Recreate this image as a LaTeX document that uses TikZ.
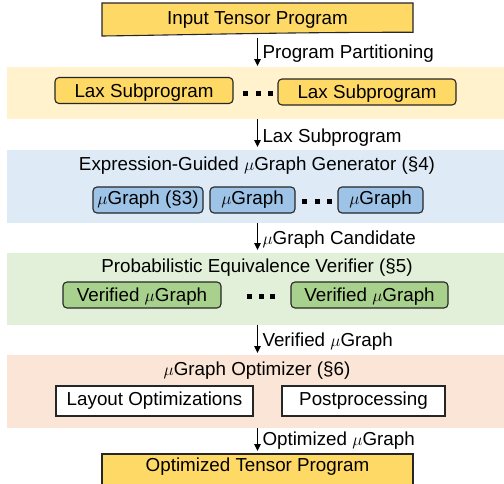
\documentclass[tikz,border=0pt]{standalone}
\usepackage{fontspec}
\setmainfont{Liberation Sans}
\usetikzlibrary{arrows.meta}
\definecolor{ygold}{HTML}{FFD966}
\definecolor{yband}{HTML}{FFF2CC}
\definecolor{bband}{HTML}{DEEBF7}
\definecolor{bbox}{HTML}{9DC3E6}
\definecolor{gband}{HTML}{E2F0D9}
\definecolor{gbox}{HTML}{A9D18E}
\definecolor{sband}{HTML}{FBE5D6}
\definecolor{edgec}{HTML}{262626}
\begin{document}
\begin{tikzpicture}[x=1pt,y=-1pt,
 every node/.style={font=\fontsize{18.8}{22}\selectfont, inner sep=0pt, outer sep=0pt, text=black},
 band/.style={rectangle, minimum width=497pt, anchor=north west},
 rbox/.style={rectangle, rounded corners=4pt, draw=edgec, line width=1.1pt, minimum height=26pt},
 sbox/.style={rectangle, draw=edgec, line width=1.1pt, minimum height=30pt, fill=white},
 lowtext/.style={text height=17.4pt, text depth=3.96pt},
 arr/.style={-{Triangle[length=7pt,width=6.5pt]}, line width=1.2pt, black},
 lbl/.style={anchor=west},
 sq/.style={rectangle, fill=black, minimum size=5pt}]
\useasboundingbox (0,0) rectangle (504,483);
\clip (0,0) rectangle (504,483);

% bands
\node[band, fill=yband, minimum height=52pt] (band1) at (7,67) {};
\node[band, fill=bband, minimum height=73pt] (band2) at (7,150) {};
\node[band, fill=gband, minimum height=72pt] (band3) at (7,253) {};
\node[band, fill=sband, minimum height=73pt] (band4) at (7,355) {};

% input document shape
\path[fill=ygold, draw=edgec, line width=1.1pt]
  (102,3) -- (413,3) -- (413,32.3) .. controls (300,32) and (180,35) .. (102,36) -- cycle;
\node[minimum width=311pt, minimum height=30pt] (inp) at (257.5,19.5) {Input Tensor Program};

% band 1
\node[rbox, lowtext, fill=ygold, minimum width=178pt] (lax1) at (144,90.5) {Lax Subprogram};
\node[rbox, lowtext, fill=ygold, minimum width=178pt] (lax2) at (367,92) {Lax Subprogram};
\node[sq] (d11) at (245.5,93.5) {};
\node[sq] (d12) at (258.5,93.5) {};
\node[sq] (d13) at (270.5,93.5) {};

% band 2
\node (t2) at (257,165.5) {Expression-Guided $\mu$Graph Generator (\S4)};
\node[rbox, fill=bbox, minimum width=110pt] (g1) at (148,200) {$\mu$Graph (\S3)};
\node[rbox, fill=bbox, minimum width=85pt] (g2) at (252.5,200) {$\mu$Graph};
\node[rbox, fill=bbox, minimum width=85pt] (g3) at (380.5,200) {$\mu$Graph};
\node[sq] (d21) at (304.5,201.5) {};
\node[sq] (d22) at (317,201.5) {};
\node[sq] (d23) at (329.5,201.5) {};

% band 3
\node (t3) at (257,268) {Probabilistic Equivalence Verifier (\S5)};
\node[rbox, lowtext, fill=gbox, minimum width=158pt] (v1) at (142,295) {Verified $\mu$Graph};
\node[rbox, lowtext, fill=gbox, minimum width=157pt] (v2) at (369.5,295) {Verified $\mu$Graph};
\node[sq] (d31) at (249.5,296) {};
\node[sq] (d32) at (261,296) {};
\node[sq] (d33) at (272.5,296) {};

% band 4
\node (t4) at (257,370.5) {$\mu$Graph Optimizer (\S6)};
\node[sbox, minimum width=197pt] (lo) at (154.5,401) {Layout Optimizations};
\node[sbox, minimum width=163pt] (pp) at (363.5,401) {Postprocessing};

% output
\node[rectangle, fill=ygold, draw=edgec, line width=1.1pt, minimum width=311pt, minimum height=34pt] (outb) at (257.5,471) {};
\node (outt) at (257.5,467) {Optimized Tensor Program};

% arrows
\draw[arr, shorten <=3pt, shorten >=1pt] (inp.south) -- (inp.south |- band1.north);
\draw[arr, shorten >=3pt] (inp.south |- band1.south) -- (inp.south |- band2.north);
\draw[arr, shorten >=3pt] (inp.south |- band2.south) -- (inp.south |- band3.north);
\draw[arr, shorten >=2pt] (inp.south |- band3.south) -- (inp.south |- band4.north);
\draw[arr, shorten >=3pt] (inp.south |- band4.south) -- (inp.south |- outb.north);

% arrow labels
\node[lbl] (l1) at (262.5,54) {Program Partitioning};
\node[lbl] (l2) at (262.5,138) {Lax Subprogram};
\node[lbl] (l3) at (262.5,240) {$\mu$Graph Candidate};
\node[lbl] (l4) at (262.5,341.5) {Verified $\mu$Graph};
\node[lbl] (l5) at (262.5,440.5) {Optimized $\mu$Graph};
\end{tikzpicture}
\end{document}
